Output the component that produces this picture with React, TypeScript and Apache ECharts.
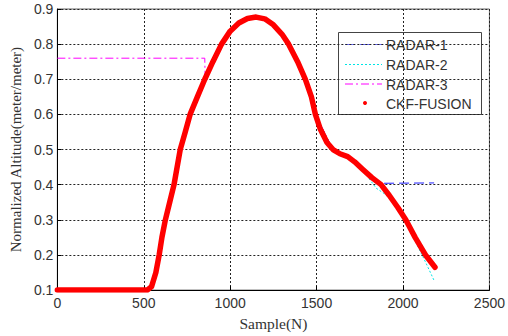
import React, { useEffect, useRef } from "react";
import * as echarts from "echarts";

const xTicks = [0, 500, 1000, 1500, 2000, 2500];
const yTicks = [0.1, 0.2, 0.3, 0.4, 0.5, 0.6, 0.7, 0.8, 0.9];

const fusion: number[][] = [
  [0, 0.1], [520, 0.1], [545, 0.11], [570, 0.15], [589, 0.2], [605, 0.25], [625, 0.3],
  [650, 0.35], [675, 0.4], [711, 0.5], [740, 0.55], [768, 0.6], [810, 0.65], [853, 0.7],
  [900, 0.75], [950, 0.8], [1000, 0.837], [1050, 0.86], [1100, 0.873], [1150, 0.877],
  [1200, 0.872], [1250, 0.855], [1300, 0.828], [1338, 0.8], [1390, 0.75], [1435, 0.7],
  [1470, 0.65], [1493, 0.6], [1520, 0.56], [1560, 0.52], [1595, 0.5], [1635, 0.488],
  [1680, 0.48], [1720, 0.465], [1766, 0.444], [1820, 0.42], [1873, 0.4], [1920, 0.37],
  [1970, 0.335], [2016, 0.3], [2070, 0.25], [2130, 0.2], [2185, 0.165],
];

const radar1: number[][] = [
  [0, 0.1], [520, 0.1], [545, 0.11], [570, 0.15], [589, 0.2], [625, 0.3], [675, 0.4],
  [711, 0.5], [768, 0.6], [853, 0.7], [950, 0.8], [1050, 0.86], [1150, 0.877],
  [1250, 0.855], [1338, 0.8], [1435, 0.7], [1493, 0.6], [1595, 0.5], [1640, 0.485],
  [1690, 0.472], [1766, 0.446], [1820, 0.42], [1870, 0.404], [2180, 0.405],
];

const radar2: number[][] = [
  [0, 0.1], [520, 0.1], [545, 0.11], [570, 0.15], [589, 0.2], [625, 0.3], [675, 0.4],
  [711, 0.5], [768, 0.6], [853, 0.7], [950, 0.8], [1050, 0.86], [1150, 0.877],
  [1250, 0.855], [1338, 0.8], [1435, 0.7], [1493, 0.6], [1595, 0.5], [1680, 0.48],
  [1766, 0.442], [1845, 0.39], [1920, 0.365], [1970, 0.33], [2016, 0.292],
  [2070, 0.24], [2130, 0.18], [2182, 0.125],
];

const radar3: number[][] = [
  [0, 0.76], [853, 0.76], [855, 0.7], [900, 0.75], [950, 0.8], [1050, 0.86],
  [1150, 0.877], [1250, 0.855], [1338, 0.8], [1435, 0.7], [1493, 0.6], [1595, 0.5],
  [1680, 0.48], [1766, 0.444], [1873, 0.4], [1970, 0.335], [2070, 0.252],
  [2130, 0.203], [2185, 0.17],
];

const legendNames = ["RADAR-1", "RADAR-2", "RADAR-3", "CKF-FUSION"];

export default function App() {
  const ref = useRef<HTMLDivElement>(null);
  useEffect(() => {
    if (!ref.current) return;
    const chart = echarts.init(ref.current, undefined, { renderer: "svg" });
    const sans = "'Liberation Sans', Arial, sans-serif";
    const serif = "'Liberation Serif', 'Times New Roman', serif";
    const lx = 345, lx2 = 382, tx = 386;
    const rows = [44.5, 64.5, 84, 103];
    chart.setOption({
      animation: false,
      backgroundColor: "#fff",
      grid: {
        left: 53, right: 16, top: 9, bottom: 44,
        show: true, borderColor: "#666", borderWidth: 1, backgroundColor: "transparent",
      },
      xAxis: {
        type: "value", min: xTicks[0], max: xTicks[xTicks.length - 1], interval: 500,
        name: "Sample(N)", nameLocation: "middle", nameGap: 22,
        nameTextStyle: { fontFamily: serif, fontSize: 15.5, color: "#333" },
        axisLine: { show: true, lineStyle: { color: "#000", width: 1 } },
        axisTick: { show: true, inside: true, length: 4, lineStyle: { color: "#000" } },
        axisLabel: {
          fontFamily: sans, fontSize: 14, color: "#333", margin: 6,
          formatter: (v: number) => String(v),
        },
        splitLine: { show: true, lineStyle: { color: "#222", type: [2, 2], width: 1 } },
      },
      yAxis: {
        type: "value", min: yTicks[0], max: yTicks[yTicks.length - 1], interval: 0.1,
        name: "Normalized Altitude(meter/meter)", nameLocation: "middle", nameGap: 33,
        nameTextStyle: { fontFamily: serif, fontSize: 15, color: "#333" },
        axisLine: { show: true, lineStyle: { color: "#000", width: 1 } },
        axisTick: { show: true, inside: true, length: 4, lineStyle: { color: "#000" } },
        axisLabel: {
          fontFamily: sans, fontSize: 14, color: "#333", margin: 4,
          formatter: (v: number) => v.toFixed(1),
        },
        splitLine: { show: true, lineStyle: { color: "#222", type: [2, 2], width: 1 } },
      },
      series: [
        {
          name: legendNames[0], type: "line", data: radar1, symbol: "none", z: 2,
          lineStyle: { color: "#2020ff", width: 1, type: [10, 5] },
        },
        {
          name: legendNames[1], type: "line", data: radar2, symbol: "none", z: 2,
          lineStyle: { color: "#00e5e5", width: 1, type: [2, 2] },
        },
        {
          name: legendNames[2], type: "line", data: radar3, symbol: "none", z: 2,
          lineStyle: { color: "#ff00ff", width: 1, type: [8, 3, 2, 3] },
        },
        {
          name: legendNames[3], type: "line", data: fusion, symbol: "none", z: 3,
          lineStyle: { color: "#ff0000", width: 5.5, cap: "round", join: "round" },
        },
      ],
      graphic: [
        {
          type: "group", z: 100,
          children: [
            {
              type: "rect", shape: { x: 338.5, y: 32.5, width: 143, height: 82 },
              style: { fill: "#fff", stroke: "#444", lineWidth: 1 },
            },
            {
              type: "line", shape: { x1: lx, y1: rows[0], x2: lx2, y2: rows[0] },
              style: { stroke: "#6b6bff", lineWidth: 1, lineDash: [10, 5] },
            },
            {
              type: "line", shape: { x1: lx, y1: rows[1], x2: lx2, y2: rows[1] },
              style: { stroke: "#00e5e5", lineWidth: 1, lineDash: [2, 2] },
            },
            {
              type: "line", shape: { x1: lx, y1: rows[2], x2: lx2, y2: rows[2] },
              style: { stroke: "#ff00ff", lineWidth: 1, lineDash: [8, 3, 2, 3] },
            },
            {
              type: "circle", shape: { cx: 365, cy: rows[3], r: 2 },
              style: { fill: "#ff0000" },
            },
            ...legendNames.map((n, i) => ({
              type: "text", x: tx, y: rows[i] + 0.5,
              style: {
                text: n, font: `14px ${sans}`, fill: "#333",
                textVerticalAlign: "middle", verticalAlign: "middle",
              },
            })),
          ],
        },
      ],
    });
    return () => chart.dispose();
  }, []);
  return (
    <div
      ref={ref}
      style={{ position: "absolute", left: 0, top: 0, width: 508, height: 336 }}
    />
  );
}
